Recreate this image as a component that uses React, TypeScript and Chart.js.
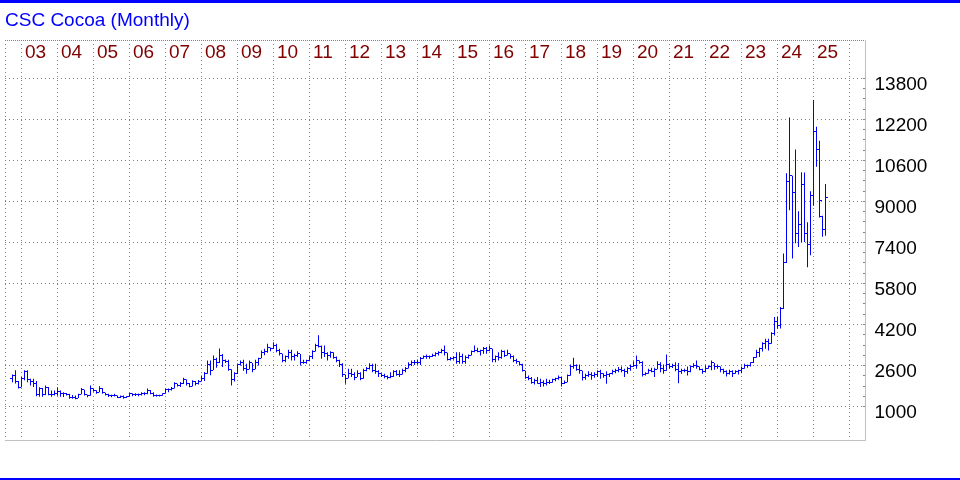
import React, { useEffect, useRef } from 'react';
import { Chart, registerables } from 'chart.js';

Chart.register(...registerables);

// ---------------- data ----------------
const chartTitle = 'CSC Cocoa (Monthly)';
// first bar is September 2002, one bar per month up to April 2025
const firstBarMonth = 9;
const yearLabels = ['03', '04', '05', '06', '07', '08', '09', '10', '11', '12', '13', '14', '15', '16', '17', '18', '19', '20', '21', '22', '23', '24', '25'];
const yLabelValues = [1000, 2600, 4200, 5800, 7400, 9000, 10600, 12200, 13800];
const minorTickStep = 400;

const opens = [
  2100, 2200, 1960, 1760,
  2080, 2350, 2050, 1960, 1880, 1460, 1700, 1450, 1760, 1480, 1450, 1520,
  1600, 1520, 1500, 1470, 1350, 1360, 1330, 1480, 1650, 1460, 1420, 1700,
  1620, 1560, 1720, 1540, 1460, 1410, 1420, 1430, 1370, 1400, 1340, 1380,
  1500, 1480, 1450, 1470, 1500, 1520, 1620, 1520, 1430, 1440, 1430, 1500,
  1650, 1650, 1720, 1880, 1820, 1900, 2050, 1900, 1800, 1980, 1900, 1980,
  2100, 2300, 2650, 2420, 2850, 2700, 3000, 2780, 2760, 2450, 2050, 2280,
  2620, 2700, 2500, 2450, 2700, 2450, 2700, 2880, 3100, 3150, 3300, 3250,
  3400, 3200, 3050, 2800, 2950, 3100, 2950, 3000, 3050, 2700, 2720, 2780,
  2950, 3150, 3400, 3350, 3100, 3050, 3000, 3100, 2900, 2780, 2650, 2250,
  2100, 2300, 2250, 2150, 2280, 2100, 2400, 2500, 2600, 2400, 2380, 2300,
  2200, 2180, 2120, 2180, 2380, 2250, 2250, 2400, 2480, 2650, 2720, 2700,
  2720, 2880, 2950, 2960, 2950, 2980, 3080, 3120, 3200, 3100, 2850, 2880,
  2900, 2750, 2950, 2750, 2900, 3000, 3150, 3200, 3150, 3180, 3250, 3200,
  3250, 2850, 2950, 2900, 3150, 3000, 3050, 2950, 2800, 2750, 2650, 2400,
  2150, 2100, 1950, 2000, 1900, 1950, 1900, 1950, 1930, 2050, 2080, 2150,
  1900, 1950, 2200, 2550, 2600, 2450, 2400, 2150, 2200, 2250, 2200, 2250,
  2350, 2300, 2200, 2250, 2280, 2350, 2400, 2450, 2400, 2350, 2480, 2550,
  2600, 2800, 2700, 2250, 2300, 2400, 2350, 2450, 2650, 2500, 2400, 2650,
  2550, 2600, 2450, 2350, 2400, 2420, 2350, 2550, 2600, 2550, 2450, 2350,
  2500, 2550, 2700, 2550, 2550, 2450, 2350, 2300, 2350, 2300, 2350, 2400,
  2500, 2600, 2600, 2700, 2900, 3100, 3250, 3450, 3550, 3450, 3850, 4300,
  4150, 4820, 6600, 9790, 10000, 9360, 7750, 8110, 9670, 7750, 7330, 9250,
  11725, 11010, 8400, 7920,
];

const highs = [
  2250, 2410, 2000, 2150,
  2410, 2410, 2080, 2080, 2000, 1750, 1720, 1820, 1760, 1620, 1620, 1750,
  1620, 1560, 1530, 1500, 1450, 1430, 1500, 1720, 1650, 1460, 1820, 1700,
  1630, 1790, 1720, 1540, 1500, 1460, 1500, 1430, 1430, 1430, 1400, 1530,
  1520, 1520, 1510, 1560, 1560, 1700, 1640, 1560, 1470, 1460, 1520, 1700,
  1700, 1760, 1950, 1890, 1960, 2120, 2050, 1920, 2020, 2000, 2030, 2210,
  2350, 2800, 2800, 2990, 2900, 3260, 3050, 2830, 2820, 2450, 2340, 2680,
  2800, 2820, 2670, 2800, 2700, 2820, 2900, 3190, 3250, 3450, 3300, 3510,
  3450, 3250, 3060, 2990, 3210, 3210, 3060, 3160, 3050, 2820, 2820, 2990,
  3200, 3450, 3780, 3380, 3380, 3120, 3160, 3120, 2950, 2820, 2690, 2250,
  2470, 2470, 2340, 2410, 2340, 2470, 2540, 2690, 2670, 2670, 2410, 2300,
  2280, 2210, 2340, 2410, 2420, 2410, 2470, 2540, 2730, 2800, 2810, 2830,
  2930, 2990, 3030, 2990, 3060, 3120, 3160, 3250, 3380, 3100, 2930, 2950,
  3120, 3120, 3060, 2990, 3030, 3190, 3380, 3290, 3210, 3320, 3320, 3380,
  3250, 2990, 3120, 3210, 3190, 3210, 3060, 2990, 2860, 2770, 2670, 2400,
  2210, 2150, 2080, 2150, 2080, 2020, 2080, 2040, 2080, 2120, 2210, 2150,
  2016, 2250, 2640, 2900, 2650, 2640, 2400, 2277, 2380, 2340, 2340, 2410,
  2430, 2300, 2380, 2300, 2430, 2470, 2540, 2560, 2470, 2540, 2640, 2770,
  2990, 2800, 2770, 2340, 2470, 2510, 2510, 2770, 2730, 2640, 3030, 2690,
  2670, 2730, 2700, 2470, 2470, 2560, 2600, 2690, 2800, 2560, 2470, 2600,
  2600, 2800, 2700, 2640, 2560, 2470, 2410, 2430, 2410, 2410, 2430, 2560,
  2670, 2640, 2730, 2930, 3210, 3290, 3510, 3640, 3640, 3900, 4490, 4490,
  4880, 6970, 10100, 12280, 10000, 11030, 8620, 10140, 10130, 8190, 9400, 12965,
  11920, 11375, 8440, 9680,
];

const lows = [
  1950, 1900, 1700, 1750,
  2020, 1950, 1820, 1760, 1400, 1380, 1380, 1450, 1440, 1380, 1430, 1420,
  1380, 1370, 1430, 1300, 1300, 1280, 1330, 1480, 1430, 1360, 1420, 1580,
  1500, 1560, 1500, 1430, 1370, 1360, 1390, 1330, 1330, 1300, 1330, 1380,
  1400, 1410, 1400, 1430, 1440, 1480, 1480, 1380, 1380, 1390, 1420, 1500,
  1560, 1620, 1700, 1780, 1760, 1880, 1820, 1750, 1780, 1820, 1860, 1980,
  2000, 2280, 2220, 2420, 2510, 2700, 2540, 2700, 2400, 1820, 1980, 2270,
  2600, 2400, 2280, 2450, 2340, 2450, 2600, 2880, 3000, 3100, 3160, 3240,
  3120, 2990, 2730, 2730, 2860, 2800, 2800, 2930, 2600, 2670, 2670, 2770,
  2850, 3150, 3300, 2860, 2930, 2800, 2900, 2860, 2730, 2540, 2150, 1885,
  2100, 2150, 2020, 2150, 2020, 2080, 2380, 2440, 2340, 2280, 2150, 2150,
  2100, 2060, 2100, 2150, 2200, 2150, 2250, 2340, 2480, 2580, 2620, 2640,
  2620, 2860, 2860, 2860, 2930, 2950, 2990, 3080, 2990, 2800, 2800, 2820,
  2670, 2670, 2670, 2670, 2860, 2990, 3120, 3120, 2990, 3060, 3060, 3160,
  2730, 2730, 2800, 2860, 2930, 2990, 2860, 2730, 2670, 2600, 2370, 2080,
  2020, 1890, 1860, 1890, 1760, 1780, 1820, 1880, 1930, 1990, 2040, 1780,
  1880, 1950, 2200, 2470, 2400, 2277, 2016, 2040, 2150, 2040, 2120, 2150,
  2080, 2120, 1885, 2150, 2250, 2300, 2340, 2340, 2150, 2280, 2400, 2540,
  2470, 2670, 2170, 2210, 2280, 2340, 2150, 2450, 2340, 2280, 2400, 2470,
  2500, 2380, 1910, 2280, 2340, 2210, 2340, 2510, 2470, 2410, 2280, 2350,
  2470, 2410, 2430, 2470, 2340, 2280, 2170, 2250, 2150, 2280, 2250, 2300,
  2470, 2510, 2560, 2700, 2900, 2930, 3150, 3250, 3190, 3450, 3770, 4035,
  4040, 4800, 6600, 8660, 6780, 7370, 7220, 7410, 7420, 6430, 6900, 8830,
  10360, 8380, 7620, 7660,
];

const closes = [
  2200, 1960, 1760, 2080,
  2350, 2050, 1960, 1880, 1460, 1700, 1450, 1760, 1480, 1450, 1520, 1600,
  1520, 1500, 1470, 1350, 1360, 1330, 1480, 1650, 1460, 1420, 1700, 1620,
  1560, 1720, 1540, 1460, 1410, 1420, 1430, 1370, 1400, 1340, 1380, 1500,
  1480, 1450, 1470, 1500, 1520, 1620, 1520, 1430, 1440, 1430, 1500, 1650,
  1650, 1720, 1880, 1820, 1900, 2050, 1900, 1800, 1980, 1900, 1980, 2100,
  2300, 2650, 2420, 2850, 2700, 3000, 2780, 2760, 2450, 2050, 2280, 2620,
  2700, 2500, 2450, 2700, 2450, 2700, 2880, 3100, 3150, 3300, 3250, 3400,
  3200, 3050, 2800, 2950, 3100, 2950, 3000, 3050, 2700, 2720, 2780, 2950,
  3150, 3400, 3350, 3100, 3050, 3000, 3100, 2900, 2780, 2650, 2250, 2100,
  2300, 2250, 2150, 2280, 2100, 2400, 2500, 2600, 2400, 2380, 2300, 2200,
  2180, 2120, 2180, 2380, 2250, 2250, 2400, 2480, 2650, 2720, 2700, 2720,
  2880, 2950, 2960, 2950, 2980, 3080, 3120, 3200, 3100, 2850, 2880, 2900,
  2750, 2950, 2750, 2900, 3000, 3150, 3200, 3150, 3180, 3250, 3200, 3250,
  2850, 2950, 2900, 3150, 3000, 3050, 2950, 2800, 2750, 2650, 2400, 2150,
  2100, 1950, 2000, 1900, 1950, 1900, 1950, 1930, 2050, 2080, 2150, 1900,
  1950, 2200, 2550, 2600, 2450, 2400, 2150, 2200, 2250, 2200, 2250, 2350,
  2300, 2200, 2250, 2280, 2350, 2400, 2450, 2400, 2350, 2480, 2550, 2600,
  2800, 2700, 2250, 2300, 2400, 2350, 2450, 2650, 2500, 2400, 2650, 2550,
  2600, 2450, 2350, 2400, 2420, 2350, 2550, 2600, 2550, 2450, 2350, 2500,
  2550, 2700, 2550, 2550, 2450, 2350, 2300, 2350, 2300, 2350, 2400, 2500,
  2600, 2600, 2700, 2900, 3100, 3250, 3450, 3550, 3450, 3850, 4300, 4150,
  4820, 6600, 9790, 10000, 9360, 7750, 8110, 9670, 7750, 7330, 9250, 11725,
  11010, 9030, 7920, 9145,
];

// ---------------- styling ----------------
const FONT = "'Liberation Sans', Arial, Helvetica, sans-serif";
const BLUE = '#0000ff';
const MAROON = '#800000';
const GRID = '#808080';
const AXIS = '#c0c0c0';

const X_MIN = -2.5;
const X_MAX = -2.5 + 860 / 3;
const Y_MIN = -307.3;
const Y_MAX = 15302.4;

// index of the first December bar: year boundaries sit on December bars
const firstDecember = 12 - firstBarMonth;
const yearTickValues = Array.from({ length: yearLabels.length + 1 }, (_, k) => firstDecember + 12 * k);

const ohlcTicksPlugin = {
  id: 'ohlcTicks',
  afterDatasetsDraw(chart: any) {
    const { ctx, chartArea } = chart;
    const xs = chart.scales.x;
    const ys = chart.scales.y;
    ctx.save();
    ctx.beginPath();
    ctx.rect(chartArea.left, chartArea.top, chartArea.right - chartArea.left, chartArea.bottom - chartArea.top);
    ctx.clip();
    ctx.fillStyle = BLUE;
    for (let i = 0; i < closes.length; i++) {
      const col = Math.round(xs.getPixelForValue(i) - 0.5);
      const rowO = Math.round(ys.getPixelForValue(opens[i]) - 0.5);
      const rowC = Math.round(ys.getPixelForValue(closes[i]) - 0.5);
      ctx.fillRect(col - 2, rowO, 2, 1);
      ctx.fillRect(col + 1, rowC, 2, 1);
    }
    ctx.restore();

    // minor tick marks on the price axis (inside the plot)
    ctx.save();
    ctx.fillStyle = GRID;
    const first = yLabelValues[0];
    const last = yLabelValues[yLabelValues.length - 1];
    for (let v = first; v <= last; v += minorTickStep) {
      const row = Math.round(ys.getPixelForValue(v) - 0.5);
      ctx.fillRect(Math.round(chartArea.right) - 2, row, 2, 1);
    }
    ctx.restore();
  },
};

export default function App() {
  const canvasRef = useRef<HTMLCanvasElement | null>(null);

  useEffect(() => {
    const canvas = canvasRef.current;
    if (!canvas) return;
    const tickFont = { family: FONT, size: 19, weight: 'normal' as const, lineHeight: 1.2 };

    const chart = new Chart(canvas, {
      type: 'bar',
      data: {
        datasets: [
          {
            label: 'High-Low',
            data: highs.map((h, i) => ({ x: i, y: [lows[i], h] })) as any,
            backgroundColor: BLUE,
            borderWidth: 0,
            barThickness: 1,
            inflateAmount: 0,
            grouped: false,
          } as any,
        ],
      },
      options: {
        responsive: false,
        animation: false,
        events: [],
        layout: { padding: { left: 5, top: 0, right: 0, bottom: 40 } },
        plugins: {
          legend: { display: false },
          tooltip: { enabled: false },
          title: {
            display: true,
            text: chartTitle,
            align: 'start',
            color: BLUE,
            font: { family: FONT, size: 19, weight: 'normal', lineHeight: 1.2 },
            padding: { top: 9, bottom: 8.2 },
          },
        },
        scales: {
          x: {
            type: 'linear',
            position: 'top',
            min: X_MIN,
            max: X_MAX,
            offset: false,
            afterBuildTicks: (axis: any) => {
              axis.ticks = [{ value: X_MIN }, ...yearTickValues.map((v) => ({ value: v }))];
            },
            afterFit: (axis: any) => {
              axis.height = 0;
            },
            grid: { offset: false, color: GRID, lineWidth: 1, drawTicks: false },
            border: { display: false, dash: [1, 3] },
            ticks: {
              mirror: true,
              padding: 1,
              align: 'start',
              labelOffset: 3.5,
              autoSkip: false,
              maxRotation: 0,
              minRotation: 0,
              color: MAROON,
              font: tickFont,
              callback: (value: any) => {
                const k = yearTickValues.indexOf(Number(value));
                return k >= 0 && k < yearLabels.length ? yearLabels[k] : '';
              },
            },
          } as any,
          xBottom: {
            type: 'linear',
            axis: 'x',
            position: 'bottom',
            min: X_MIN,
            max: X_MAX,
            offset: false,
            afterFit: (axis: any) => {
              axis.height = 0;
            },
            grid: { display: false, drawTicks: false },
            ticks: { display: false },
            border: { display: true, color: AXIS, width: 1 },
          } as any,
          y: {
            type: 'linear',
            position: 'right',
            min: Y_MIN,
            max: Y_MAX,
            afterBuildTicks: (axis: any) => {
              axis.ticks = [...yLabelValues.map((v) => ({ value: v })), { value: Y_MAX }];
            },
            afterFit: (axis: any) => {
              axis.width = 95;
            },
            grid: { color: GRID, lineWidth: 1, drawTicks: false },
            border: {
              display: true,
              color: AXIS,
              width: 1,
              dash: (ctx: any) => (ctx.tick && ctx.tick.value === Y_MAX ? [1, 1] : [1, 3]),
            },
            ticks: {
              padding: 9.5,
              labelOffset: 6,
              autoSkip: false,
              color: '#000000',
              font: tickFont,
              callback: (value: any) => (Number(value) === Y_MAX ? '' : String(value)),
            },
          } as any,
        },
      },
      plugins: [ohlcTicksPlugin],
    });

    return () => {
      chart.destroy();
    };
  }, []);

  return (
    <div style={{ position: 'absolute', left: 0, top: 0, width: 960, height: 480, background: '#ffffff' }}>
      <canvas ref={canvasRef} width={960} height={480} style={{ display: 'block', width: 960, height: 480 }} />
      <div style={{ position: 'absolute', left: 0, top: 0, width: 960, height: 3, background: BLUE }} />
      <div style={{ position: 'absolute', left: 0, top: 478, width: 960, height: 2, background: BLUE }} />
    </div>
  );
}
